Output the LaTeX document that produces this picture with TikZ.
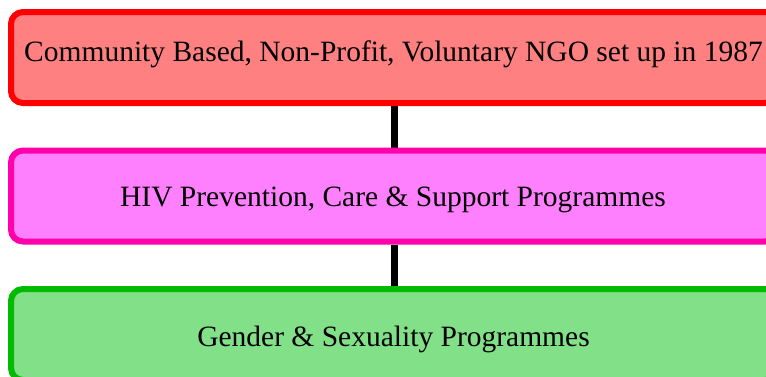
\documentclass[tikz,border=0pt]{standalone}
\usepackage{fontspec}
\setmainfont{Liberation Serif}
\usetikzlibrary{backgrounds}
\definecolor{redline}{RGB}{255,0,0}
\definecolor{redfill}{RGB}{255,128,128}
\definecolor{pinkline}{RGB}{255,0,170}
\definecolor{pinkfill}{RGB}{255,128,255}
\definecolor{greenline}{RGB}{0,187,0}
\definecolor{greenfill}{RGB}{130,224,136}
\tikzset{
  box/.style={draw, line width=6pt, rounded corners=12pt, minimum width=766pt, minimum height=91pt, inner sep=0pt},
  lbl/.style={anchor=base, inner sep=0pt, font=\fontsize{29.5}{34}\selectfont, text=black},
  link/.style={line width=7pt, black}
}
\begin{document}
\begin{tikzpicture}[x=1pt,y=1pt]
\useasboundingbox (0,0) rectangle (766,-376);
\clip (0,0) rectangle (766,-376);
\node[box, draw=redline, fill=redfill] (a) at (394,-57.5) {};
\node[box, draw=pinkline, fill=pinkfill] (b) at (394,-196) {};
\node[box, draw=greenline, fill=greenfill] (c) at (394,-334.5) {};
\node[lbl] (ta) at (393.5,-61.7) {Community Based, Non-Profit, Voluntary NGO set up in 1987};
\node[lbl] (tb) at (393,-206.7) {HIV Prevention, Care \& Support Programmes};
\node[lbl] (tc) at (393.5,-346) {Gender \& Sexuality Programmes};
\begin{scope}[on background layer]
\draw[link] (a.south) -- (b.north);
\draw[link] (b.south) -- (c.north);
\end{scope}
\end{tikzpicture}
\end{document}
